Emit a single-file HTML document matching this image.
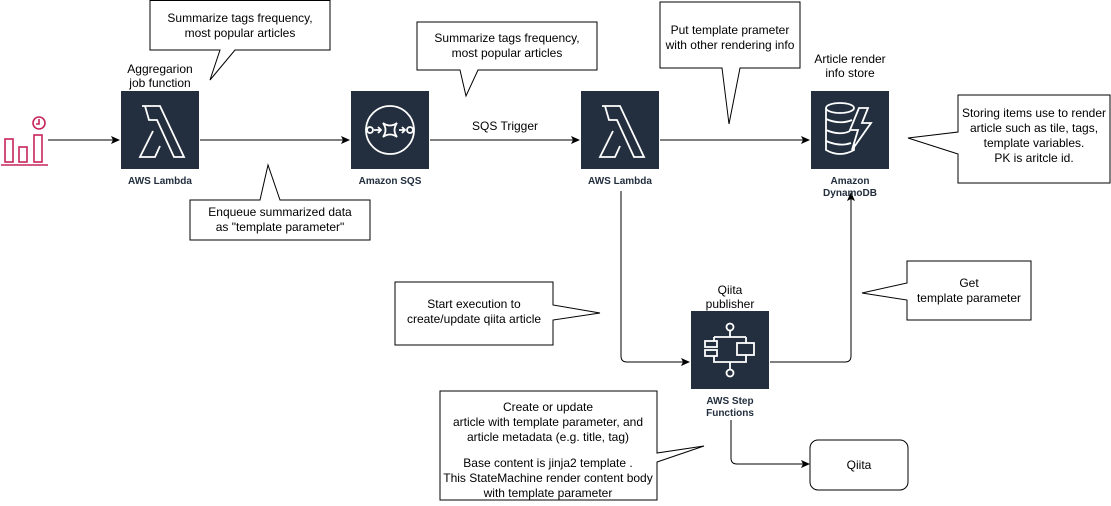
<!DOCTYPE html>
<html><head><style>
html,body{margin:0;padding:0;background:#fff;}
svg{display:block;font-family:"Liberation Sans",Helvetica,Arial,sans-serif;}
.t{font-size:12px;fill:#000;text-anchor:middle;}
.b{font-size:10px;font-weight:bold;fill:#232F3E;text-anchor:middle;}
.ln{stroke:#000;stroke-width:1;fill:none;}
.co{fill:#fff;stroke:#000;stroke-width:1;}
.ic{fill:none;stroke:#fff;stroke-width:1.8;}
</style></head><body>
<svg width="1111" height="506" viewBox="0 0 1111 506">
<defs><marker id="a" markerWidth="10" markerHeight="10" refX="8" refY="4" orient="auto" markerUnits="userSpaceOnUse"><path d="M0,0 L9,4 L0,8 L2,4 Z" fill="#000"/></marker></defs>

<g stroke="#C7245B" stroke-width="1.6" fill="none">
<rect x="5" y="139" width="8" height="23"/><rect x="19" y="147" width="8" height="15"/><rect x="34" y="135" width="8" height="27"/>
<line x1="1" y1="165" x2="48" y2="165"/><circle cx="39" cy="123" r="6"/><path d="M39,119 V124 H36"/>
</g>

<line class="ln" x1="48" y1="140" x2="119" y2="140" marker-end="url(#a)"/>
<line class="ln" x1="200" y1="140" x2="349" y2="140" marker-end="url(#a)"/>
<line class="ln" x1="430" y1="140" x2="579" y2="140" marker-end="url(#a)"/>
<line class="ln" x1="660" y1="140" x2="809" y2="140" marker-end="url(#a)"/>
<path class="ln" d="M621,191 V356 Q621,362 627,362 H689" marker-end="url(#a)"/>
<path class="ln" d="M770,362 H845 Q851,362 851,356 V193" marker-end="url(#a)"/>
<path class="ln" d="M731,420 V458 Q731,464 737,464 H809" marker-end="url(#a)"/>

<rect x="121" y="91" width="78" height="78" fill="#232F3E"/>
<path class="ic" d="M142,106 H160 L184,157 H174 L157,120 H149 L145,106 Z M153,131 L140,157 H155 L160,146"/>
<text class="b" x="160" y="184">AWS Lambda</text>
<text class="t" x="160" y="73">Aggregarion</text><text class="t" x="160" y="87">job function</text>

<rect x="351" y="91" width="78" height="78" fill="#232F3E"/>
<g class="ic"><circle cx="390" cy="130" r="24"/><circle cx="370" cy="130" r="3"/><circle cx="410" cy="130" r="3"/>
<path d="M374,130 H380 M378,127 L381,130 L378,133 M383,123 Q390,128 397,123 Q392,130 397,137 Q390,132 383,137 Q388,130 383,123 Z M399,130 H405 M402,127 L405,130 L402,133"/></g>
<text class="b" x="390" y="184">Amazon SQS</text>
<text class="t" x="505" y="130">SQS Trigger</text>

<rect x="581" y="91" width="78" height="78" fill="#232F3E"/>
<path class="ic" d="M602,106 H620 L644,157 H634 L617,120 H609 L605,106 Z M613,131 L600,157 H615 L620,146"/>
<text class="b" x="620" y="184">AWS Lambda</text>

<rect x="811" y="91" width="78" height="78" fill="#232F3E"/>
<g class="ic"><ellipse cx="840" cy="108" rx="14" ry="5"/><path d="M826,108 V150 Q840,158 854,150 V144 M826,119 Q840,125 852,120 M826,130 Q840,136 850,131 M826,141 Q840,147 851,143"/>
<path d="M859,108 L850,130 H858 L852,150 L871,123 H862 L868,108 Z"/></g>
<text class="b" x="850" y="184">Amazon</text><text class="b" x="850" y="196">DynamoDB</text>
<text class="t" x="850" y="63">Article render</text><text class="t" x="850" y="77">info store</text>

<rect x="691" y="311" width="78" height="78" fill="#232F3E"/>
<g class="ic"><circle cx="730" cy="327" r="3.5"/><circle cx="730" cy="373" r="3.5"/>
<path d="M730,331 V337 M714,337 H746 M714,337 V341 M746,337 V343 M714,356 V362 H746 V355 M730,362 V369"/>
<rect x="705" y="341" width="12" height="6"/><rect x="705" y="350" width="12" height="6"/><rect x="737" y="343" width="17" height="12"/></g>
<text class="b" x="730" y="404">AWS Step</text><text class="b" x="730" y="416">Functions</text>
<text class="t" x="730" y="294">Qiita</text><text class="t" x="730" y="308">publisher</text>

<rect x="810" y="440" width="98" height="50" rx="8" class="co"/>
<text class="t" x="859" y="469">Qiita</text>

<path class="co" d="M150,0.5 H330 V50 H235 L210,80 L220,50 H150 Z"/>
<text class="t" x="240" y="22">Summarize tags frequency,</text><text class="t" x="240" y="37">most popular articles</text>

<path class="co" d="M190,200 H260 L268,165 L280,200 H370 V240 H190 Z"/>
<text class="t" x="280" y="216">Enqueue summarized data</text><text class="t" x="280" y="231">as "template parameter"</text>

<path class="co" d="M417,22 H597 V70 H478 L466,96 L460,70 H417 Z"/>
<text class="t" x="507" y="42">Summarize tags frequency,</text><text class="t" x="507" y="57">most popular articles</text>

<path class="co" d="M660,2 H800 V68 H740 L729,124 L722,68 H660 Z"/>
<text class="t" x="730" y="34">Put template prameter</text><text class="t" x="730" y="49">with other rendering info</text>

<path class="co" d="M958,95 H1110 V183 H958 V154 L908,138 L958,132 Z"/>
<text class="t" x="1034" y="117">Storing items use to render</text><text class="t" x="1034" y="132">article such as tile, tags,</text>
<text class="t" x="1034" y="147">template variables.</text><text class="t" x="1034" y="162">PK is aritcle id.</text>

<path class="co" d="M395,282 H553 V305 L600,313 L553,320 V345 H395 Z"/>
<text class="t" x="474" y="308">Start execution to</text><text class="t" x="474" y="323">create/update qiita article</text>

<path class="co" d="M907,261 H1031 V320 H907 V300 L862,293 L907,283 Z"/>
<text class="t" x="969" y="287">Get</text><text class="t" x="969" y="302">template parameter</text>

<path class="co" d="M440,391 H657 V453 L704,446 L657,462 V500 H440 Z"/>
<text class="t" x="548" y="411">Create or update</text><text class="t" x="548" y="426">article with template parameter, and</text>
<text class="t" x="548" y="441">article metadata (e.g. title, tag)</text>
<text class="t" x="548" y="467">Base content is jinja2 template .</text><text class="t" x="548" y="482">This StateMachine render content body</text>
<text class="t" x="548" y="497">with template parameter</text>
</svg>
</body></html>
